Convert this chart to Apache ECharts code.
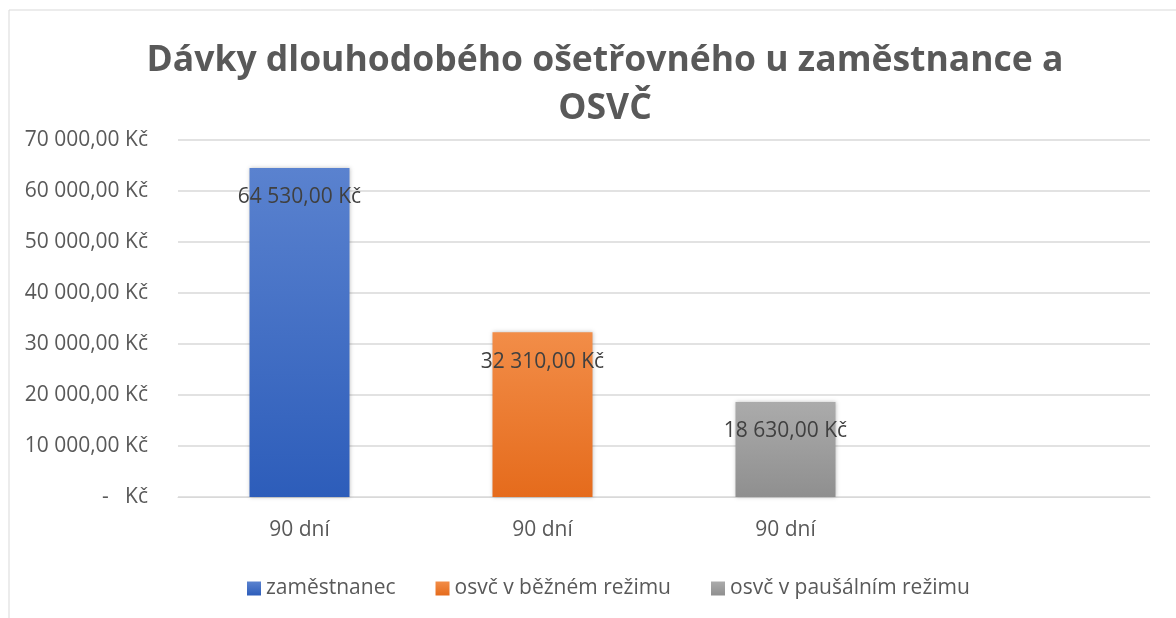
<!DOCTYPE html>
<html>
<head>
<meta charset="utf-8">
<script src="https://cdn.jsdelivr.net/npm/echarts@6/dist/echarts.min.js"></script>
<style>
  html, body { margin: 0; padding: 0; background: #fff; }
  #chart { width: 1176px; height: 618px; }
</style>
</head>
<body>
<div id="chart"></div>
<script>
const categories = ['90 dní', '90 dní', '90 dní', ''];
const seriesNames = ['zaměstnanec', 'osvč v běžném režimu', 'osvč v paušálním režimu'];
const zamestnanec = [64530, '-', '-', '-'];
const osvcBezny = ['-', 32310, '-', '-'];
const osvcPausal = ['-', '-', 18630, '-'];
const yTicks = [0, 10000, 20000, 30000, 40000, 50000, 60000, 70000];

const fontFamily = '"Open Sans", "Noto Sans", sans-serif';

// 12 345,00 Kč
function czk(v) {
  if (v === 0) return '-   Kč';
  let s = Math.round(v).toString().replace(/\B(?=(\d{3})+(?!\d))/g, ' ');
  return s + ',00 Kč';
}

function grad(top, bottom) {
  return new echarts.graphic.LinearGradient(0, 0, 0, 1, [
    { offset: 0, color: top },
    { offset: 1, color: bottom }
  ]);
}

const colors = [
  grad('#5a82cf', '#2d5dba'),
  grad('#f28d48', '#e56b1c'),
  grad('#ababab', '#8f8f8f')
];

const chart = echarts.init(document.getElementById('chart'));

function barSeries(name, data, color) {
  return {
    name: name,
    type: 'bar',
    stack: 'one',
    barWidth: 100,
    data: data,
    itemStyle: {
      color: color,
      shadowColor: 'rgba(0,0,0,0.25)',
      shadowBlur: 4
    },
    label: {
      show: true,
      position: 'insideTop',
      distance: 19,
      color: '#404040',
      fontSize: 21,
      fontFamily: fontFamily,
      formatter: p => czk(p.value)
    }
  };
}

const option = {
  backgroundColor: '#fff',
  animation: false,
  color: ['#4472c4', '#ed7d31', '#a5a5a5'],
  title: {
    text: 'Dávky dlouhodobého ošetřovného u zaměstnance a\nOSVČ',
    left: 600,
    textAlign: 'center',
    top: 32,
    textStyle: {
      color: '#595959',
      fontSize: 35.5,
      fontWeight: 'bold',
      fontFamily: fontFamily,
      lineHeight: 48
    }
  },
  graphic: [
    { type: 'line', shape: { x1: 9, y1: 10, x2: 1176, y2: 10 }, style: { stroke: '#d9d9d9', lineWidth: 1 } },
    { type: 'line', shape: { x1: 9, y1: 10, x2: 9, y2: 618 }, style: { stroke: '#d9d9d9', lineWidth: 1 } }
  ],
  legend: {
    bottom: 14,
    left: 242,
    icon: 'rect',
    itemWidth: 14,
    itemHeight: 14,
    itemGap: 40,
    data: seriesNames,
    textStyle: { color: '#595959', fontSize: 21, fontFamily: fontFamily }
  },
  grid: { left: 178, right: 26, top: 140, bottom: 121 },
  xAxis: {
    type: 'category',
    data: categories,
    axisLine: { lineStyle: { color: '#d9d9d9' } },
    axisTick: { show: false },
    axisLabel: { color: '#595959', fontSize: 21, fontFamily: fontFamily, margin: 23 }
  },
  yAxis: {
    type: 'value',
    min: 0,
    max: 70000,
    interval: 10000,
    axisLine: { show: false },
    axisTick: { show: false },
    splitLine: { lineStyle: { color: '#d9d9d9', width: 1.5 } },
    axisLabel: {
      color: '#595959',
      fontSize: 21,
      fontFamily: fontFamily,
      margin: 30,
      formatter: v => yTicks.indexOf(v) >= 0 ? czk(v) : ''
    }
  },
  series: [
    barSeries(seriesNames[0], zamestnanec, colors[0]),
    barSeries(seriesNames[1], osvcBezny, colors[1]),
    barSeries(seriesNames[2], osvcPausal, colors[2])
  ]
};

chart.setOption(option);
</script>
</body>
</html>
